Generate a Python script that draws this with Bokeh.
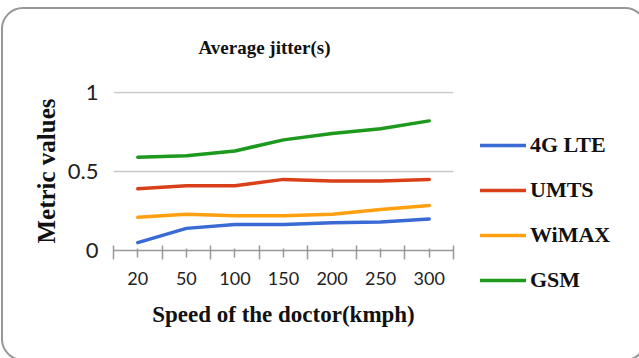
import numpy as np
from bokeh.plotting import figure
from bokeh.models import (Range1d, FixedTicker, Legend, LegendItem,
                          InlineStyleSheet)
from bokeh.embed import file_html
from bokeh.resources import INLINE

# ---- data ----
speeds = ["20", "50", "100", "150", "200", "250", "300"]
lte = [0.05, 0.14, 0.165, 0.165, 0.175, 0.18, 0.20]
umts = [0.39, 0.41, 0.41, 0.45, 0.44, 0.44, 0.45]
wimax = [0.21, 0.23, 0.22, 0.22, 0.23, 0.26, 0.285]
gsm = [0.59, 0.60, 0.63, 0.70, 0.74, 0.77, 0.82]
series_names = ["4G LTE", "UMTS", "WiMAX", "GSM"]
y_ticks = [0, 0.5, 1]
y_tick_labels = ["0", "0.5", "1"]

series = [lte, umts, wimax, gsm]
colors = ["#3a6ad4", "#d9401a", "#ffa010", "#1d9a1d"]
x = list(range(len(speeds)))

p = figure(frame_width=340, frame_height=159, output_backend="svg", toolbar_location=None,
           x_range=Range1d(-0.5, len(speeds) - 0.5), y_range=Range1d(0, 1.006),
           min_border_left=113, min_border_right=186,
           min_border_top=91, min_border_bottom=108)
p.outline_line_color = None
p.background_fill_color = "white"
p.border_fill_color = "white"
p.stylesheets = [InlineStyleSheet(css="""
:host { position: relative; overflow: hidden; }
:host::after {
  content: ""; position: absolute; left: 1px; top: 7px;
  width: 646px; height: 354px; box-sizing: border-box;
  border: 2px solid #979797; border-radius: 22px;
  pointer-events: none; z-index: 10;
}
""")]

renderers = []
for vals, c in zip(series, colors):
    r = p.line(x, vals, line_color=c, line_width=3.5, line_cap="round",
               line_join="round")
    renderers.append(r)

# title
p.title.text = "Average jitter(s)"
p.title.align = "left"
p.title.offset = 85
p.title.standoff = 68
p.title.text_font = "Liberation Serif"
p.title.text_font_style = "bold"
p.title.text_font_size = "19px"
p.title.text_color = "#111111"

# grid
p.xgrid.visible = False
p.ygrid.ticker = FixedTicker(ticks=[t for t in y_ticks if t > 0])
p.ygrid.grid_line_color = "#c8c8c8"
p.ygrid.grid_line_width = 1.5

# x axis
xa = p.xaxis[0]
xa.ticker = FixedTicker(ticks=x, minor_ticks=[i - 0.5 for i in range(len(speeds) + 1)])
xa.major_label_overrides = {i: s for i, s in zip(x, speeds)}
xa.axis_line_color = "#999999"
xa.axis_line_width = 1.5
xa.major_tick_line_color = "#999999"
xa.minor_tick_line_color = "#999999"
xa.major_tick_line_width = 1.5
xa.minor_tick_line_width = 1.5
xa.major_tick_in = 2
xa.major_tick_out = 7
xa.minor_tick_in = 5
xa.minor_tick_out = 9
xa.major_label_text_font = "Lato"
xa.major_label_text_font_size = "18px"
xa.major_label_text_color = "#222222"
xa.major_label_standoff = 12
xa.axis_label = "Speed of the doctor(kmph)"
xa.axis_label_text_font = "Liberation Serif"
xa.axis_label_text_font_style = "bold"
xa.axis_label_text_font_size = "23px"
xa.axis_label_text_color = "#111111"
xa.axis_label_standoff = 14

# y axis
ya = p.yaxis[0]
ya.ticker = FixedTicker(ticks=y_ticks)
ya.major_label_overrides = {t: s for t, s in zip(y_ticks, y_tick_labels)}
ya.axis_line_color = None
ya.major_tick_line_color = None
ya.minor_tick_line_color = None
ya.major_label_text_font = "Lato"
ya.major_label_text_font_size = "22px"
ya.major_label_text_color = "#222222"
ya.major_label_standoff = 9
ya.axis_label = "Metric values"
ya.axis_label_text_font = "Liberation Serif"
ya.axis_label_text_font_style = "bold"
ya.axis_label_text_font_size = "25px"
ya.axis_label_text_color = "#111111"
ya.axis_label_standoff = 5

# legend in the right panel
legend = Legend(items=[LegendItem(label=n, renderers=[r]) for n, r in zip(series_names, renderers)],
                location="top_left", orientation="vertical",
                glyph_width=46, glyph_height=44, label_height=44, spacing=1,
                padding=0, margin=27, border_line_color=None,
                background_fill_alpha=0, label_standoff=4,
                title=" ", title_text_font_size="4px", title_standoff=0,
                label_text_font="Liberation Serif", label_text_font_style="bold",
                label_text_font_size="22px", label_text_color="#111111")
p.add_layout(legend, "right")

open("out.html", "w").write(file_html(p, INLINE))
